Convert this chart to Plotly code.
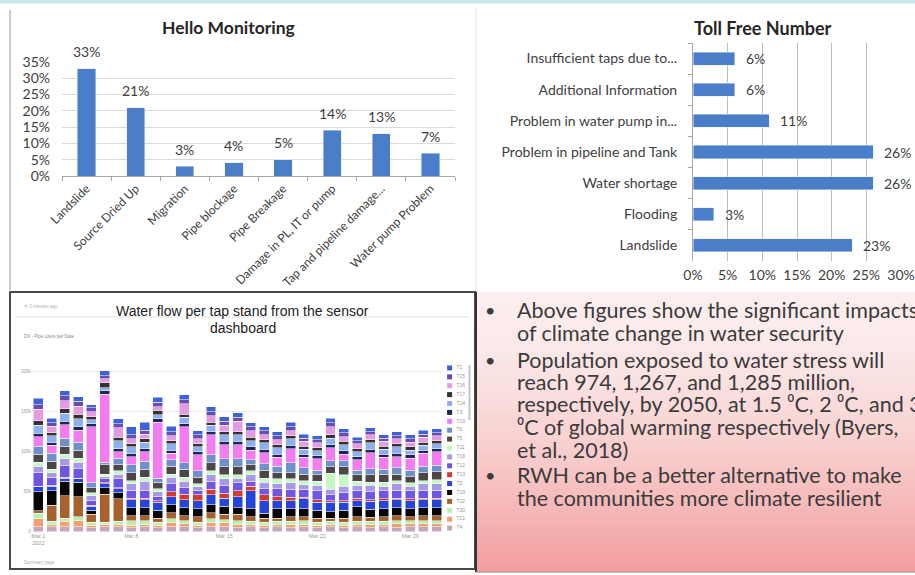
import plotly.graph_objects as go
import pandas as pd

W, H = 915, 575
def fx(x): return x / W
def fy(y): return 1 - y / H

# ---------------- data ----------------
hello_cats = ["Landslide", "Source Dried Up", "Migration", "Pipe blockage", "Pipe Breakage",
              "Damage in PL, IT or pump", "Tap and pipeline damage...", "Water pump Problem"]
hello_vals = [33, 21, 3, 4, 5, 14, 13, 7]

toll_cats = ["Insufficient taps due to...", "Additional Information", "Problem in water pump in...",
             "Problem in pipeline and Tank", "Water shortage", "Flooding", "Landslide"]
toll_vals = [6, 6, 11, 26, 26, 3, 23]

flow_dates = pd.date_range("2022-03-01", "2022-03-31", freq="D")

# litres per day (thousands), bottom of stack first
flow_T4  = [6,6,6,6,5,6,6,5,6,5,6,6,5,6,6,5,6,5,6,5,6,5,6,5,6,5,6,5,6,6,6]
flow_T21 = [10,3,7,8,3,3,3,3,3,3,5,4,3,6,5,4,3,3,3,4,3,3,3,3,3,4,3,5,4,4,4]
flow_T20 = [7,4,4,5,4,3,4,6,5,4,5,4,4,4,4,5,4,4,4,4,5,4,4,4,4,4,4,4,4,4,4]
flow_T22 = [3,20,28,25,10,35,28,6,6,5,8,6,7,8,7,8,6,5,4,6,5,5,4,5,6,5,6,6,5,6,6]
flow_T19 = [24,18,18,18,5,8,8,10,10,10,10,10,10,10,10,8,10,6,12,10,10,10,8,10,12,10,10,10,10,10,10]
flow_T2  = [6,6,4,4,5,5,5,10,10,10,10,10,10,12,10,14,22,16,10,10,12,10,12,10,8,10,10,10,10,10,10]
flow_T13 = [1,1,1,1,1,1,1,2,2,2,6,7,7,7,6,7,6,7,5,4,2,3,2,2,3,2,2,2,2,2,2]
flow_T12 = [17,10,15,12,6,5,11,10,10,5,10,8,6,10,10,10,6,8,10,10,10,12,8,10,10,10,10,10,10,10,10]
flow_T18 = [8,6,8,8,6,3,6,8,11,6,8,8,4,8,8,6,8,8,6,8,6,6,6,8,6,8,6,8,6,8,8]
flow_T11 = [5,4,6,5,4,3,4,4,5,4,4,5,4,5,5,4,5,5,6,5,5,5,20,14,5,4,5,4,4,4,5]
flow_T5  = [10,10,10,10,6,12,8,10,10,8,10,10,8,10,10,10,8,10,8,8,8,8,8,10,8,9,10,8,8,10,10]
flow_T6  = [10,10,10,10,6,3,8,10,10,5,8,8,8,10,10,10,6,8,8,12,8,6,8,8,6,8,6,8,8,8,8]
flow_T10 = [12,10,17,15,70,85,8,10,12,70,8,45,20,25,18,18,12,14,11,18,13,14,16,8,13,20,15,14,15,16,17]
flow_T3  = [4,4,4,4,4,4,4,4,4,4,4,4,4,4,4,4,4,4,4,4,4,4,4,4,4,4,4,4,4,4,4]
flow_T14 = [10,8,10,10,5,4,10,8,8,5,8,8,6,8,8,8,8,8,8,8,6,6,8,8,6,8,6,8,6,6,6]
flow_T17 = [6,4,6,6,4,6,4,4,4,6,4,4,4,4,4,4,4,4,4,4,4,4,4,4,4,4,4,4,4,4,4]
flow_T16 = [14,8,10,10,6,5,12,6,6,4,6,13,6,8,8,13,8,6,6,6,6,6,10,6,6,6,6,6,6,6,6]
flow_T15 = [6,4,6,6,5,4,5,5,5,6,5,5,5,5,5,5,5,5,5,5,4,4,5,5,4,4,4,4,4,4,4]
flow_T1  = [8,6,6,6,4,6,6,10,10,6,7,6,5,6,6,6,5,5,5,6,5,5,6,5,4,5,4,5,5,5,5]

flow_series = [
    ("T4", flow_T4, "#c4a6c0"), ("T21", flow_T21, "#f2a070"), ("T20", flow_T20, "#b6f0b0"),
    ("T22", flow_T22, "#a8602c"), ("T19", flow_T19, "#060606"), ("T2", flow_T2, "#2545d8"),
    ("T13", flow_T13, "#d23a2e"), ("T12", flow_T12, "#6f55e2"), ("T18", flow_T18, "#a898e8"),
    ("T11", flow_T11, "#c6f8c6"), ("T5", flow_T5, "#4c4646"), ("T6", flow_T6, "#7090cc"),
    ("T10", flow_T10, "#f27cf0"), ("T3", flow_T3, "#1c2458"), ("T14", flow_T14, "#8cb0f0"),
    ("T17", flow_T17, "#3a2e2e"), ("T16", flow_T16, "#e49be4"), ("T15", flow_T15, "#6a4cb0"),
    ("T1", flow_T1, "#3e62d6"),
]

bullets = [
    ["Above figures show the significant impacts", "of climate change in water security"],
    ["Population exposed to water stress will", "reach 974, 1,267, and 1,285 million,",
     "respectively, by 2050, at 1.5 ⁰C, 2 ⁰C, and 3",
     "⁰C of global warming respectively (Byers,", "et al., 2018)"],
    ["RWH can be a better alternative to make", "the communities more climate resilient"],
]

# ---------------- figure ----------------
BLUE = "#4a7ec8"
TXT = "#404040"
FONT = "Lato"
fig = go.Figure()

fig.add_trace(go.Bar(x=hello_cats, y=[v / 100 for v in hello_vals], marker_color=BLUE,
                     width=0.37, xaxis="x", yaxis="y", showlegend=False, hoverinfo="skip"))
fig.add_trace(go.Bar(y=toll_cats, x=[v / 100 for v in toll_vals], orientation="h", marker_color=BLUE,
                     width=0.42, xaxis="x2", yaxis="y2", showlegend=False, hoverinfo="skip"))
for name, vals, col in flow_series:
    fig.add_trace(go.Bar(x=flow_dates, y=[v * 1000 for v in vals], name=name, marker_color=col,
                         marker_line_color="white", marker_line_width=0.5,
                         xaxis="x3", yaxis="y3", showlegend=False, hoverinfo="skip"))
leg = list(reversed(flow_series))
fig.add_trace(go.Scatter(x=[0.2] * len(leg), y=list(range(len(leg))), mode="markers+text",
                         marker=dict(symbol="square", size=5, color=[c for _, _, c in leg]),
                         text=["  " + n for n, _, _ in leg], textposition="middle right",
                         textfont=dict(size=5, color="#999999", family="Liberation Sans"),
                         xaxis="x4", yaxis="y4", showlegend=False, hoverinfo="skip", cliponaxis=False))

annotations = []
for c, v in zip(hello_cats, hello_vals):
    annotations.append(dict(x=c, y=v / 100, xref="x", yref="y", text=f"{v}%", showarrow=False,
                            yshift=17, font=dict(size=14, color=TXT, family=FONT)))
for c, v in zip(toll_cats, toll_vals):
    annotations.append(dict(x=v / 100, y=c, xref="x2", yref="y2", text=f"{v}%", showarrow=False,
                            xanchor="left", xshift=9, font=dict(size=14, color=TXT, family=FONT)))

def pa(x, y, text, size, color, bold=False, xanchor="center", family=FONT):
    annotations.append(dict(x=fx(x), y=fy(y), xref="paper", yref="paper", text=("<b>%s</b>" % text) if bold else text,
                            showarrow=False, xanchor=xanchor, yanchor="middle",
                            font=dict(size=size, color=color, family=family)))

pa(229, 28, "Hello Monitoring", 17.5, "#262626", bold=True)
pa(763, 28, "Toll Free Number", 18, "#262626", bold=True)
pa(243, 311, "Water flow per tap stand from the sensor", 14, "#222222", family="Liberation Sans")
pa(243, 328, "dashboard", 14, "#222222", family="Liberation Sans")
pa(22, 306, "⟳ 2 minutes ago", 4.5, "#b0b0b0", xanchor="left", family="Liberation Sans")
pa(22, 336, "DV - Pipe Liters per Date", 4.5, "#888888", xanchor="left", family="Liberation Sans")
pa(22, 562, "Summary page", 4.5, "#b0b0b0", xanchor="left", family="Liberation Sans")

line_y = [[310, 333], [360, 382, 404, 427, 450], [475, 498]]
for lines, ys in zip(bullets, line_y):
    pa(490, ys[0], "•", 18, "#3b3b3b")
    for t, yy in zip(lines, ys):
        pa(515, yy, t, 21.5, "#3b3b3b", xanchor="left")

shapes = []
top_c = (252, 238, 238)
bot_c = (242, 156, 156)
N = 40
y0, y1 = 292, 572
for i in range(N):
    t = (i + 0.5) / N
    k = t ** 1.6
    c = tuple(int(round(a + (b - a) * k)) for a, b in zip(top_c, bot_c))
    ya = y0 + (y1 - y0) * i / N
    yb = y0 + (y1 - y0) * (i + 1) / N + 0.6
    shapes.append(dict(type="rect", xref="paper", yref="paper", x0=fx(476), x1=fx(916),
                       y0=fy(yb), y1=fy(ya), fillcolor="rgb(%d,%d,%d)" % c, line_width=0, layer="below"))
shapes += [
    dict(type="rect", xref="paper", yref="paper", x0=0, x1=1, y0=fy(3.5), y1=1,
         fillcolor="#cbe8ef", line_width=0, layer="below"),
    dict(type="line", xref="paper", yref="paper", x0=fx(10), x1=fx(10), y0=fy(10), y1=fy(290),
         line=dict(color="#b8b8b8", width=1.5)),
    dict(type="line", xref="paper", yref="paper", x0=fx(476), x1=fx(476), y0=fy(8), y1=fy(292),
         line=dict(color="#e6e6e6", width=1)),
    dict(type="rect", xref="paper", yref="paper", x0=fx(10), x1=fx(475), y0=fy(569), y1=fy(292),
         line=dict(color="#4a4a4a", width=2), fillcolor="rgba(0,0,0,0)"),
    dict(type="line", xref="paper", yref="paper", x0=fx(16), x1=fx(470), y0=fy(317), y1=fy(317),
         line=dict(color="#e4e4e4", width=1)),
    dict(type="line", xref="paper", yref="paper", x0=fx(476), x1=fx(476), y0=fy(292), y1=fy(572),
         line=dict(color="#333333", width=2)),
    dict(type="line", xref="paper", yref="paper", x0=fx(476), x1=1, y0=fy(572), y1=fy(572),
         line=dict(color="#9a9a9a", width=1)),
    dict(type="line", xref="paper", yref="paper", x0=fx(469.5), x1=fx(469.5), y0=fy(420), y1=fy(365),
         line=dict(color="#c4c4c4", width=2)),
]

axfont = dict(family=FONT, color=TXT)
fig.update_layout(
    width=W, height=H, margin=dict(l=0, r=0, t=0, b=0, autoexpand=False), autosize=False,
    paper_bgcolor="white", plot_bgcolor="rgba(0,0,0,0)",
    barmode="stack", bargap=0.25,
    font=dict(family=FONT, color=TXT),
    xaxis=dict(domain=[fx(62), fx(455)], anchor="y", type="category", tickangle=-45, automargin=False,
               ticks="outside", tickson="boundaries", ticklen=4, tickcolor="#a6a6a6",
               showline=True, linecolor="#a6a6a6", linewidth=1, showgrid=False,
               tickfont=dict(size=12, **axfont), fixedrange=True),
    yaxis=dict(domain=[fy(176), fy(62)], anchor="x", range=[0, 0.35], dtick=0.05, tickformat=".0%",
               showgrid=True, gridcolor="#d9d9d9", zeroline=False, ticklabelstandoff=11, automargin=False,
               tickfont=dict(size=14, **axfont), fixedrange=True),
    xaxis2=dict(domain=[fx(693), fx(901)], anchor="y2", range=[0, 0.30], dtick=0.05, tickformat=".0%",
                showgrid=True, gridcolor="#bdbdbd", zeroline=False, ticklabelstandoff=4, automargin=False,
                tickfont=dict(size=14, **axfont), fixedrange=True),
    yaxis2=dict(domain=[fy(261), fy(43)], anchor="x2", type="category", autorange="reversed",
                ticks="outside", tickson="boundaries", ticklen=4, tickcolor="#a6a6a6", automargin=False,
                showline=True, linecolor="#a6a6a6", linewidth=1, showgrid=False, ticklabelstandoff=12,
                tickfont=dict(size=14, **axfont), fixedrange=True),
    xaxis3=dict(domain=[fx(31.7), fx(443.4)], anchor="y3", type="date", automargin=False,
                range=["2022-02-28 12:00", "2022-03-31 12:00"], tick0="2022-03-01", dtick=7 * 86400000,
                showgrid=False, zeroline=False, ticks="",
                tickfont=dict(size=5.5, color="#999999", family="Liberation Sans"), fixedrange=True),
    yaxis3=dict(domain=[fy(531.7), fy(363.7)], anchor="x3", range=[0, 210000], automargin=False,
                tickvals=[0, 50000, 100000, 150000, 200000], tickformat="~s",
                showgrid=True, gridcolor="#ececec", zeroline=False,
                tickfont=dict(size=4.5, color="#999999", family="Liberation Sans"), fixedrange=True),
    xaxis4=dict(domain=[fx(445), fx(468)], anchor="y4", range=[0, 1], visible=False, fixedrange=True, automargin=False),
    yaxis4=dict(domain=[fy(532.5), fy(363.5)], anchor="x4", range=[18.5, -0.5], visible=False, fixedrange=True, automargin=False),
    annotations=annotations, shapes=shapes,
)

fig.write_html("out.html", config={"displayModeBar": False},
               post_script="document.body.style.margin='0px';document.body.style.overflow='hidden';")
